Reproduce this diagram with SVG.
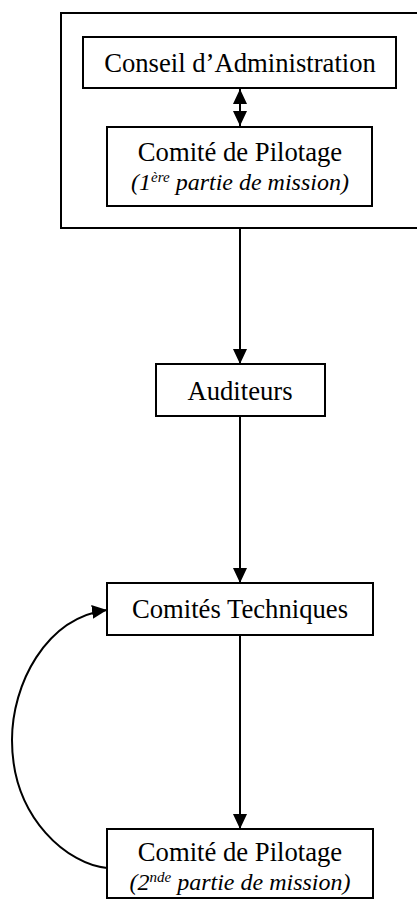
<svg xmlns="http://www.w3.org/2000/svg" width="417" height="901" viewBox="0 0 417 901">
<defs>
<style>
.box{fill:#fff;stroke:#000;stroke-width:2}
.frame{fill:none;stroke:#000;stroke-width:2}
.t{font-family:"Liberation Serif","Times New Roman",serif;font-size:26.67px;fill:#000;text-anchor:middle}
.i{font-family:"Liberation Serif","Times New Roman",serif;font-size:24px;font-style:italic;fill:#000;text-anchor:middle}
.c{fill:none;stroke:#000;stroke-width:2}
</style>
<marker id="ah" markerUnits="userSpaceOnUse" markerWidth="15" markerHeight="14" refX="15" refY="7" orient="auto-start-reverse" viewBox="0 0 15 14">
<path d="M0,0 L15,7 L0,14 z" fill="#000"/>
</marker>
</defs>
<g id="frame"><rect class="frame" x="61" y="13" width="360" height="215"/></g>
<g id="connectors">
<path class="c" d="M240,89 L240,126" marker-start="url(#ah)" marker-end="url(#ah)"/>
<path class="c" d="M240,228 L240,364" marker-end="url(#ah)"/>
<path class="c" d="M240,416 L240,583" marker-end="url(#ah)"/>
<path class="c" d="M240,635 L240,829" marker-end="url(#ah)"/>
<path class="c" d="M107,868 C70,865 12,820 12,740 C12,685 45,618 107,610" marker-end="url(#ah)"/>
</g>
<g id="conseil">
<rect class="box" x="83" y="37" width="313" height="51"/>
<text class="t" x="240" y="72">Conseil d’Administration</text>
</g>
<g id="pilotage1">
<rect class="box" x="107" y="127" width="265" height="79"/>
<text class="t" x="240" y="161">Comité de Pilotage</text>
<text class="i" x="240" y="190">(1<tspan font-size="15" dy="-8">ère</tspan><tspan dy="8"> partie de mission)</tspan></text>
</g>
<g id="auditeurs">
<rect class="box" x="156" y="364" width="169" height="52"/>
<text class="t" x="240" y="400">Auditeurs</text>
</g>
<g id="techniques">
<rect class="box" x="107" y="583" width="266" height="52"/>
<text class="t" x="240" y="618">Comités Techniques</text>
</g>
<g id="pilotage2">
<rect class="box" x="107" y="829" width="266" height="69"/>
<text class="t" x="240" y="861">Comité de Pilotage</text>
<text class="i" x="240" y="890">(2<tspan font-size="15" dy="-8">nde</tspan><tspan dy="8"> partie de mission)</tspan></text>
</g>
</svg>
